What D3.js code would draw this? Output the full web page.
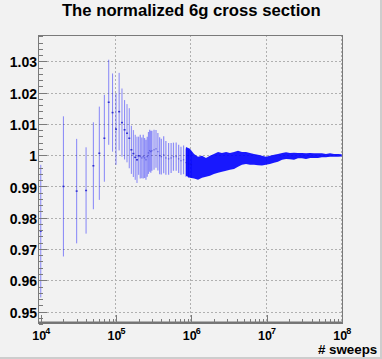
<!DOCTYPE html>
<html><head><meta charset="utf-8">
<script src="https://cdn.jsdelivr.net/npm/d3@7"></script>
<style>body{margin:0;background:#f2f2f2}svg{display:block}</style>
</head><body>
<script>
// ---------- data ----------
const title = "The normalized 6g cross section";
const xLabel = "# sweeps";
const yTickValues = [0.95,0.96,0.97,0.98,0.99,1.00,1.01,1.02,1.03];
const yTickLabels = ["0.95","0.96","0.97","0.98","0.99","1","1.01","1.02","1.03"];
const xTickValues = [1e4,1e5,1e6,1e7,1e8];
const xTickExponents = ["4","5","6","7","8"];

// individually visible points
const sweeps   = [1e4,2e4,3e4,4e4,5e4,6e4,7e4,8e4,9e4,1e5,1.1e5,1.2e5,1.3e5,1.4e5,1.5e5,1.6e5,1.7e5,1.8e5,1.9e5,2e5];
const ratio    = [0.9757,0.9900,0.9885,0.9887,0.9966,1.0006,1.0054,1.0169,1.0136,1.0083,1.0139,1.0104,1.0081,1.0070,1.0054,1.0017,1.0005,0.9993,0.9985,0.9998];
const ratioErr = [0.0212,0.0224,0.0167,0.0138,0.0139,0.0149,0.0139,0.0136,0.0125,0.0114,0.0124,0.0109,0.0095,0.0093,0.0096,0.0077,0.0075,0.0072,0.0074,0.0061];

// overlapping points (light region)
const sweepsMid = [2.1e5,2.2e5,2.3e5,2.4e5,2.5e5,2.6e5,2.7e5,2.8e5,2.9e5,3e5,3.2e5,3.4e5,3.6e5,3.8e5,4e5,4.3e5,4.6e5,5e5,5.4e5,5.8e5,6.3e5,6.8e5,7.3e5,7.9e5,8.5e5,9.2e5,1e6];
const ratioMid  = [0.9995,0.9991,0.9995,0.9991,0.9985,0.9995,1.0007,1.0014,1.0011,1.0014,1.0017,1.0020,1.0011,0.9998,0.9995,1.0001,0.9991,0.9988,0.9991,0.9995,0.9995,0.9988,0.9982,0.9985,0.9976,0.9972,0.9969];
const errMid    = [0.0070,0.0065,0.0070,0.0064,0.0064,0.0064,0.0067,0.0067,0.0067,0.0064,0.0064,0.0060,0.0060,0.0059,0.0057,0.0059,0.0054,0.0051,0.0048,0.0045,0.0045,0.0045,0.0045,0.0046,0.0045,0.0045,0.0041];

// dense band (envelope of overlapping error bars)
const bandSweeps = [8.5e5,9.6e5,1.09e6,1.23e6,1.39e6,1.57e6,1.77e6,2.0e6,2.27e6,2.56e6,2.9e6,3.27e6,3.7e6,4.18e6,4.72e6,5.34e6,6.03e6,6.82e6,7.71e6,8.71e6,9.84e6,1.11e7,1.26e7,1.42e7,1.61e7,1.82e7,2.05e7,2.32e7,2.62e7,2.96e7,3.35e7,3.79e7,4.28e7,4.83e7,5.46e7,6.17e7,6.98e7,7.89e7,8.91e7,1e8];
const bandHigh   = [1.0026,1.0020,1.0004,0.9995,0.9998,0.9991,0.9998,1.0004,1.0010,1.0007,1.0010,1.0007,1.0010,1.0014,1.0010,1.0010,1.0007,1.0004,1.0001,0.9998,0.9995,0.9998,1.0001,1.0004,1.0007,1.0009,1.0007,1.0008,1.0007,1.0007,1.0006,1.0007,1.0006,1.0006,1.0006,1.0004,1.0006,1.0004,1.0004,1.0003];
const bandLow    = [0.9934,0.9928,0.9925,0.9921,0.9928,0.9931,0.9934,0.9940,0.9944,0.9947,0.9950,0.9953,0.9956,0.9963,0.9969,0.9972,0.9969,0.9969,0.9968,0.9967,0.9969,0.9972,0.9976,0.9979,0.9985,0.9988,0.9987,0.9985,0.9990,0.9990,0.9988,0.9991,0.9991,0.9991,0.9993,0.9993,0.9995,0.9995,0.9995,0.9996];

const xDomain = [9330, 1.023e8];
const yDomain = [0.9465, 1.0384];

// ---------- drawing ----------
const W = 382, H = 359;
const L = 38.5, R = 342.5, T = 35, B = 322.5;
const FONT = "'Liberation Sans', Arial, Helvetica, sans-serif";
const svg = d3.select("body").append("svg").attr("width", W).attr("height", H);
svg.append("rect").attr("width", W).attr("height", H).attr("fill", "#f2f2f2");
svg.append("rect").attr("x", 380).attr("y", 0).attr("width", 2).attr("height", H).attr("fill", "#cdcdcd");
svg.append("rect").attr("x", 0).attr("y", 357).attr("width", W).attr("height", 2).attr("fill", "#cdcdcd");

const x = d3.scaleLog().domain(xDomain).range([L, R]);
const y = d3.scaleLinear().domain(yDomain).range([B, T]);

// grid
const grid = svg.append("g").attr("stroke", "#b0b0b0").attr("stroke-dasharray", "2,2").attr("shape-rendering", "crispEdges");
yTickValues.forEach(v => {
  const yy = Math.round(y(v)) + 0.5;
  grid.append("line").attr("x1", L).attr("x2", R).attr("y1", yy).attr("y2", yy);
});
xTickValues.slice(1).forEach(v => {
  const xx = Math.round(x(v)) - 0.5;
  grid.append("line").attr("x1", xx).attr("x2", xx).attr("y1", T).attr("y2", B);
});

// data
const plot = svg.append("g");
const pts = sweeps.map((n, i) => ({n, v: ratio[i], e: ratioErr[i]}));
const mid = sweepsMid.map((n, i) => ({n, v: ratioMid[i], e: errMid[i]}));
const band = bandSweeps.map((n, i) => ({n, hi: bandHigh[i], lo: bandLow[i]}));

plot.selectAll("line.mid").data(mid).join("line")
  .attr("x1", d => x(d.n)).attr("x2", d => x(d.n))
  .attr("y1", d => y(d.v + d.e)).attr("y2", d => y(d.v - d.e))
  .attr("stroke", "#0000ff").attr("stroke-opacity", 0.42).attr("stroke-width", 1.2);

plot.append("path").datum(band)
  .attr("d", d3.area().x(d => x(d.n)).y0(d => y(d.lo)).y1(d => y(d.hi)))
  .attr("fill", "#0000ff").attr("fill-opacity", 0.9);

plot.selectAll("line.pt").data(pts).join("line")
  .attr("x1", d => x(d.n)).attr("x2", d => x(d.n))
  .attr("y1", d => y(d.v + d.e)).attr("y2", d => y(d.v - d.e))
  .attr("stroke", "#0000ff").attr("stroke-opacity", 0.45).attr("stroke-width", 1);

plot.selectAll("rect.mk").data(pts).join("rect")
  .attr("x", d => x(d.n) - 1).attr("y", d => y(d.v) - 0.75)
  .attr("width", 2).attr("height", 1.5)
  .attr("fill", "#1414c8").attr("fill-opacity", 0.8);
plot.selectAll("rect.mk2").data(mid).join("rect")
  .attr("x", d => x(d.n) - 0.75).attr("y", d => y(d.v) - 0.5)
  .attr("width", 1.5).attr("height", 1)
  .attr("fill", "#1414c8").attr("fill-opacity", 0.5);

// frame
svg.append("rect").attr("x", L).attr("y", T + 0.5).attr("width", R - L).attr("height", B - T)
  .attr("fill", "none").attr("stroke", "#7a7a7a").attr("stroke-width", 1).attr("shape-rendering", "crispEdges");
svg.append("line").attr("x1", L - 0.5).attr("x2", R + 0.5).attr("y1", B).attr("y2", B)
  .attr("stroke", "#747474").attr("stroke-width", 2);

// y axis
const yMinor = d3.range(473, 520).map(k => +(k * 0.002).toFixed(3)).filter(v => Math.abs(v * 100 - Math.round(v * 100)) > 1e-6);
const gyMinor = svg.append("g").attr("transform", `translate(${L},0)`)
  .call(d3.axisLeft(y).tickValues(yMinor).tickSize(-4).tickFormat(""));
gyMinor.select(".domain").remove();
gyMinor.selectAll("line").attr("stroke", "#7a7a7a").attr("shape-rendering", "crispEdges");

const gy = svg.append("g").attr("transform", `translate(${L},0)`)
  .call(d3.axisLeft(y).tickValues(yTickValues).tickSize(-8).tickPadding(1.5).tickFormat((d, i) => yTickLabels[i]));
gy.select(".domain").remove();
gy.selectAll("line").attr("stroke", "#7a7a7a").attr("shape-rendering", "crispEdges");
gy.selectAll("text").attr("font-family", FONT).attr("font-weight", "bold").attr("font-size", 14)
  .attr("fill", "#000").attr("dy", "0.4em");

// x axis
const xMinor = [];
[1e4, 1e5, 1e6, 1e7].forEach(dec => { for (let k = 2; k <= 9; k++) xMinor.push(k * dec); });
const gxMinor = svg.append("g").attr("transform", `translate(0,${B})`)
  .call(d3.axisBottom(x).tickValues(xMinor).tickSize(-4).tickFormat(""));
gxMinor.select(".domain").remove();
gxMinor.selectAll("line").attr("stroke", "#7a7a7a").attr("shape-rendering", "crispEdges");

const gx = svg.append("g").attr("transform", `translate(0,${B})`)
  .call(d3.axisBottom(x).tickValues(xTickValues).tickSize(-8).tickFormat(() => ""));
gx.select(".domain").remove();
gx.selectAll("line").attr("stroke", "#7a7a7a").attr("shape-rendering", "crispEdges");
gx.selectAll("text").each(function(d, i) {
  const t = d3.select(this);
  t.text(null).attr("y", 17.5).attr("dy", 0).attr("fill", "#000")
   .attr("font-family", FONT).attr("font-weight", "bold").attr("font-size", 12.5);
  t.append("tspan").text("10");
  t.append("tspan").attr("dx", -1).attr("dy", -5.7).attr("font-size", 9).text(xTickExponents[i]);
});

// title
const tt = svg.append("text").attr("x", 191.3).attr("y", 16.3).attr("text-anchor", "middle")
  .attr("font-family", FONT).attr("font-weight", "bold").attr("font-size", 16).attr("fill", "#000").text(title);
let w = tt.node().getComputedTextLength();
tt.attr("font-size", 16 * 259 / w);

// x label
const xl = svg.append("text").attr("x", 377.3).attr("y", 353.8).attr("text-anchor", "end")
  .attr("font-family", FONT).attr("font-weight", "bold").attr("font-size", 14).attr("fill", "#000").text(xLabel);
w = xl.node().getComputedTextLength();
xl.attr("font-size", 14 * 59.5 / w);
</script>
</body></html>
